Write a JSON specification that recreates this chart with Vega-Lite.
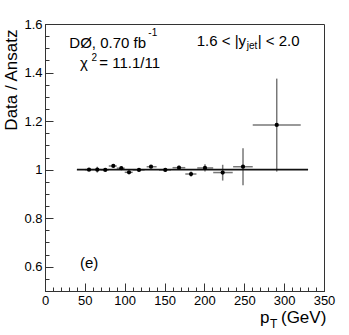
{
  "$schema": "https://vega.github.io/schema/vega-lite/v6.json",
  "width": 279,
  "height": 267,
  "autosize": {"type": "none"},
  "padding": {"left": 45, "top": 24, "right": 25, "bottom": 44},
  "background": "white",
  "config": {
    "font": "Liberation Sans",
    "view": {"stroke": "#333", "strokeWidth": 1},
    "axis": {"labelFont": "Liberation Sans", "titleFont": "Liberation Sans", "labelColor": "#000", "titleColor": "#000", "tickColor": "#333", "domainColor": "#333", "grid": false},
    "text": {"font": "Liberation Sans", "color": "#000"}
  },
  "datasets": {
    "pts": [
      {"pt": 55.2, "r": 1.000, "lo": 0.994, "hi": 1.006, "xlo": 50, "xhi": 60},
      {"pt": 65.6, "r": 1.000, "lo": 0.988, "hi": 1.012, "xlo": 60, "xhi": 70},
      {"pt": 75.6, "r": 0.999, "lo": 0.994, "hi": 1.004, "xlo": 70, "xhi": 80},
      {"pt": 85.7, "r": 1.015, "lo": 1.009, "hi": 1.021, "xlo": 80, "xhi": 90},
      {"pt": 95.7, "r": 1.006, "lo": 1.000, "hi": 1.012, "xlo": 90, "xhi": 100},
      {"pt": 105.4, "r": 0.989, "lo": 0.982, "hi": 0.996, "xlo": 100, "xhi": 110},
      {"pt": 117.9, "r": 0.999, "lo": 0.992, "hi": 1.006, "xlo": 110, "xhi": 125},
      {"pt": 133.0, "r": 1.012, "lo": 1.005, "hi": 1.019, "xlo": 127.5, "xhi": 140},
      {"pt": 150.9, "r": 0.999, "lo": 0.992, "hi": 1.006, "xlo": 143, "xhi": 158},
      {"pt": 168.1, "r": 1.008, "lo": 1.000, "hi": 1.016, "xlo": 160, "xhi": 176},
      {"pt": 183.2, "r": 0.982, "lo": 0.972, "hi": 0.992, "xlo": 176, "xhi": 190},
      {"pt": 200.7, "r": 1.007, "lo": 0.992, "hi": 1.022, "xlo": 191, "xhi": 211},
      {"pt": 222.9, "r": 0.988, "lo": 0.955, "hi": 1.020, "xlo": 211, "xhi": 235.5},
      {"pt": 248.4, "r": 1.012, "lo": 0.936, "hi": 1.088, "xlo": 236, "xhi": 260.6},
      {"pt": 290.7, "r": 1.184, "lo": 0.992, "hi": 1.375, "xlo": 260.6, "xhi": 320.8}
    ]
  },
  "layer": [
    {
      "data": {"name": "pts"},
      "mark": {"type": "rule", "color": "#777", "strokeWidth": 1.5},
      "encoding": {
        "x": {"field": "pt", "type": "quantitative", "scale": {"domain": [0, 350], "nice": false, "zero": false},
          "axis": {"orient": "bottom", "values": [0,10,20,30,40,50,60,70,80,90,100,110,120,130,140,150,160,170,180,190,200,210,220,230,240,250,260,270,280,290,300,310,320,330,340,350], "tickSize": -4, "labels": false, "domain": false, "title": null}},
        "y": {"field": "lo", "type": "quantitative", "scale": {"domain": [0.5, 1.6], "nice": false, "zero": false},
          "axis": {"orient": "left", "values": [0.5,0.55,0.6,0.65,0.7,0.75,0.8,0.85,0.9,0.95,1,1.05,1.1,1.15,1.2,1.25,1.3,1.35,1.4,1.45,1.5,1.55,1.6], "tickSize": -4, "labels": false, "domain": false, "title": null}},
        "y2": {"field": "hi"}
      }
    },
    {
      "data": {"name": "pts"},
      "mark": {"type": "rule", "color": "#777", "strokeWidth": 1.5},
      "encoding": {
        "x": {"field": "xlo", "type": "quantitative", "scale": {"domain": [0, 350], "nice": false, "zero": false}, "axis": null},
        "x2": {"field": "xhi"},
        "y": {"field": "r", "type": "quantitative", "scale": {"domain": [0.5, 1.6], "nice": false, "zero": false}, "axis": null}
      }
    },
    {
      "data": {"values": [{"ref": 1}]},
      "mark": {"type": "rule", "color": "#111", "strokeWidth": 1.6},
      "encoding": {
        "x": {"datum": 40, "type": "quantitative", "scale": {"domain": [0, 350], "nice": false, "zero": false}, "axis": null},
        "x2": {"datum": 330},
        "y": {"field": "ref", "type": "quantitative", "scale": {"domain": [0.5, 1.6], "nice": false, "zero": false}, "axis": null}
      }
    },
    {
      "data": {"name": "pts"},
      "mark": {"type": "circle", "color": "#000", "size": 18, "opacity": 1},
      "encoding": {
        "x": {"field": "pt", "type": "quantitative", "scale": {"domain": [0, 350], "nice": false, "zero": false},
          "axis": {"orient": "bottom", "values": [0, 50, 100, 150, 200, 250, 300, 350], "tickSize": -8, "labelPadding": 11, "labelFontSize": 13, "title": null, "labelFlush": false}},
        "y": {"field": "r", "type": "quantitative", "scale": {"domain": [0.5, 1.6], "nice": false, "zero": false},
          "axis": {"orient": "left", "values": [0.6, 0.8, 1, 1.2, 1.4, 1.6], "labelExpr": "datum.value + ''", "tickSize": -8, "labelPadding": 11, "labelFontSize": 13, "labelFlush": false,
            "title": "Data / Ansatz", "titleFontSize": 17, "titleFontWeight": "normal", "titleAngle": -90, "titleX": -29, "titleY": 5, "titleAlign": "right", "titleBaseline": "alphabetic"}}
      }
    },
    {
      "data": {"values": [{"t": "DØ, 0.70 fb"}]},
      "mark": {"type": "text", "align": "left", "baseline": "alphabetic", "fontSize": 15},
      "encoding": {"x": {"datum": 30.5, "type": "quantitative", "axis": null}, "y": {"datum": 1.503, "type": "quantitative", "axis": null}, "text": {"field": "t"}}
    },
    {
      "data": {"values": [{"t": "-1"}]},
      "mark": {"type": "text", "align": "left", "baseline": "alphabetic", "fontSize": 10, "dx": 79, "dy": -12},
      "encoding": {"x": {"datum": 30.5, "type": "quantitative", "axis": null}, "y": {"datum": 1.503, "type": "quantitative", "axis": null}, "text": {"field": "t"}}
    },
    {
      "data": {"values": [{"t": "χ"}]},
      "mark": {"type": "text", "align": "left", "baseline": "alphabetic", "fontSize": 15},
      "encoding": {"x": {"datum": 43.9, "type": "quantitative", "axis": null}, "y": {"datum": 1.4175, "type": "quantitative", "axis": null}, "text": {"field": "t"}}
    },
    {
      "data": {"values": [{"t": "2"}]},
      "mark": {"type": "text", "align": "left", "baseline": "alphabetic", "fontSize": 10, "dx": 11.5, "dy": -7},
      "encoding": {"x": {"datum": 43.9, "type": "quantitative", "axis": null}, "y": {"datum": 1.4175, "type": "quantitative", "axis": null}, "text": {"field": "t"}}
    },
    {
      "data": {"values": [{"t": "= 11.1/11"}]},
      "mark": {"type": "text", "align": "left", "baseline": "alphabetic", "fontSize": 15, "dx": 19.3},
      "encoding": {"x": {"datum": 43.9, "type": "quantitative", "axis": null}, "y": {"datum": 1.4175, "type": "quantitative", "axis": null}, "text": {"field": "t"}}
    },
    {
      "data": {"values": [{"t": "1.6 < |y"}]},
      "mark": {"type": "text", "align": "left", "baseline": "alphabetic", "fontSize": 15},
      "encoding": {"x": {"datum": 190.3, "type": "quantitative", "axis": null}, "y": {"datum": 1.5106, "type": "quantitative", "axis": null}, "text": {"field": "t"}}
    },
    {
      "data": {"values": [{"t": "jet"}]},
      "mark": {"type": "text", "align": "left", "baseline": "alphabetic", "fontSize": 10, "dx": 50, "dy": 3},
      "encoding": {"x": {"datum": 190.3, "type": "quantitative", "axis": null}, "y": {"datum": 1.5106, "type": "quantitative", "axis": null}, "text": {"field": "t"}}
    },
    {
      "data": {"values": [{"t": "| < 2.0"}]},
      "mark": {"type": "text", "align": "left", "baseline": "alphabetic", "fontSize": 15, "dx": 61},
      "encoding": {"x": {"datum": 190.3, "type": "quantitative", "axis": null}, "y": {"datum": 1.5106, "type": "quantitative", "axis": null}, "text": {"field": "t"}}
    },
    {
      "data": {"values": [{"t": "(e)"}]},
      "mark": {"type": "text", "align": "left", "baseline": "alphabetic", "fontSize": 15},
      "encoding": {"x": {"datum": 43.9, "type": "quantitative", "axis": null}, "y": {"datum": 0.596, "type": "quantitative", "axis": null}, "text": {"field": "t"}}
    },
    {
      "data": {"values": [{"t": "p"}]},
      "mark": {"type": "text", "align": "left", "baseline": "alphabetic", "fontSize": 17},
      "encoding": {"x": {"datum": 269.7, "type": "quantitative", "axis": null}, "y": {"datum": 0.368, "type": "quantitative", "axis": null}, "text": {"field": "t"}}
    },
    {
      "data": {"values": [{"t": "T"}]},
      "mark": {"type": "text", "align": "left", "baseline": "alphabetic", "fontSize": 12, "dx": 10, "dy": 5},
      "encoding": {"x": {"datum": 269.7, "type": "quantitative", "axis": null}, "y": {"datum": 0.368, "type": "quantitative", "axis": null}, "text": {"field": "t"}}
    },
    {
      "data": {"values": [{"t": "(GeV)"}]},
      "mark": {"type": "text", "align": "left", "baseline": "alphabetic", "fontSize": 17, "dx": 21},
      "encoding": {"x": {"datum": 269.7, "type": "quantitative", "axis": null}, "y": {"datum": 0.368, "type": "quantitative", "axis": null}, "text": {"field": "t"}}
    }
  ],
  "resolve": {"axis": {"x": "independent", "y": "independent"}}
}
